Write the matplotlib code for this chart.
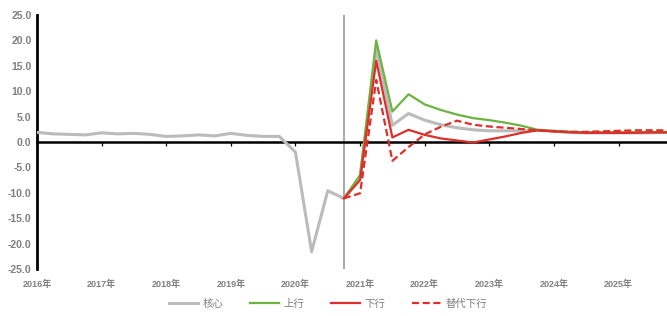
import matplotlib
matplotlib.use("Agg")
import matplotlib.pyplot as plt
import numpy as np

plt.rcParams['font.family'] = ['Liberation Sans', 'Noto Sans CJK SC', 'DejaVu Sans']

# ---- data (quarterly, 2016Q1 .. 2025Q4) ----
years = [2016, 2017, 2018, 2019, 2020, 2021, 2022, 2023, 2024, 2025]
year_labels = [f"{y}年" for y in years]
core = [1.9, 1.6, 1.5, 1.4, 1.8, 1.6, 1.7, 1.5, 1.1, 1.2, 1.4, 1.2, 1.7, 1.3, 1.1, 1.1,
        -2.0, -21.6, -9.6, -11.1,
        -7.0, 18.5, 3.3, 5.6, 4.3, 3.4, 2.8, 2.4, 2.2, 2.2, 2.2, 2.3, 2.1, 1.9, 1.8, 1.8,
        1.8, 1.8, 1.8, 1.9]
upside = [-11.1, -6.5, 20.0, 6.0, 9.4, 7.4, 6.3, 5.4, 4.7, 4.3, 3.8, 3.2, 2.4, 2.2, 2.0,
          1.9, 1.9, 1.9, 1.9, 1.9, 1.9]
downside = [-11.1, -7.5, 16.0, 0.9, 2.4, 1.4, 0.7, 0.3, -0.1, 0.5, 1.1, 1.8, 2.3, 2.1, 1.9,
            1.8, 1.8, 1.8, 1.8, 1.9, 1.9]
alt_downside = [-11.1, -10.1, 12.2, -3.7, -1.0, 1.5, 3.0, 4.2, 3.4, 3.05, 2.8, 2.55, 2.3,
                2.1, 2.0, 2.0, 2.1, 2.2, 2.3, 2.3, 2.3]
series_names = ["核心", "上行", "下行", "替代下行"]
forecast_start = 19   # index of 2020Q4

x_core = np.arange(len(core))
x_fc = np.arange(forecast_start, forecast_start + len(upside))
year_pos = [4 * (y - years[0]) for y in years]

GRAY = '#BBBBBB'
GREEN = '#6DB33F'
RED = '#DF2E2A'
TXT = '#7F7F7F'

fig = plt.figure(figsize=(6.67, 3.16), dpi=100)
ax = fig.add_axes([37 / 667, 1 - 269 / 316, (667 - 37) / 667, (269 - 15) / 316])

ax.plot(x_core, core, color=GRAY, lw=2.2, label=series_names[0], zorder=3)
ax.plot(x_fc, upside, color=GREEN, lw=1.6, label=series_names[1], zorder=4)
ax.plot(x_fc, downside, color=RED, lw=1.6, label=series_names[2], zorder=5)
ax.plot(x_fc, alt_downside, color=RED, lw=1.6, ls=(0, (3.2, 1.6)),
        label=series_names[3], zorder=6)

ax.axvline(forecast_start, color='#999999', lw=1.2, zorder=2)

ax.set_xlim(0, len(core) - 1)
ax.set_ylim(-25, 25)
ax.set_yticks(np.arange(-25, 26, 5))
ax.set_yticklabels([f"{v:.1f}" for v in np.arange(-25, 26, 5)])
ax.tick_params(axis='y', length=0, pad=4, labelsize=7.5, labelcolor=TXT)
for lab in ax.get_yticklabels():
    lab.set_fontweight('bold')

for s in ['top', 'right']:
    ax.spines[s].set_visible(False)
ax.spines['left'].set_linewidth(2.0)
ax.spines['left'].set_color('black')
ax.spines['bottom'].set_position(('data', 0))
ax.spines['bottom'].set_linewidth(1.8)
ax.spines['bottom'].set_color('black')
ax.spines['bottom'].set_zorder(2.5)
ax.set_xticks(year_pos)
ax.tick_params(axis='x', direction='out', length=3, width=0.9, color='black',
               labelbottom=False)

sec = ax.secondary_xaxis(0)
sec.set_xticks(year_pos)
sec.set_xticklabels(year_labels)
sec.tick_params(length=0, pad=7.5, labelsize=6.5, labelcolor=TXT)
sec.spines['bottom'].set_visible(False)
for lab in sec.get_xticklabels():
    lab.set_fontweight('bold')

leg = fig.legend(loc='center', bbox_to_anchor=(0.492, 1 - 304 / 316), ncol=4,
                 frameon=False, fontsize=7.5, handlelength=2.8, handletextpad=0.4,
                 columnspacing=2.6, labelcolor=TXT)

fig.savefig('out.png', dpi=100)
